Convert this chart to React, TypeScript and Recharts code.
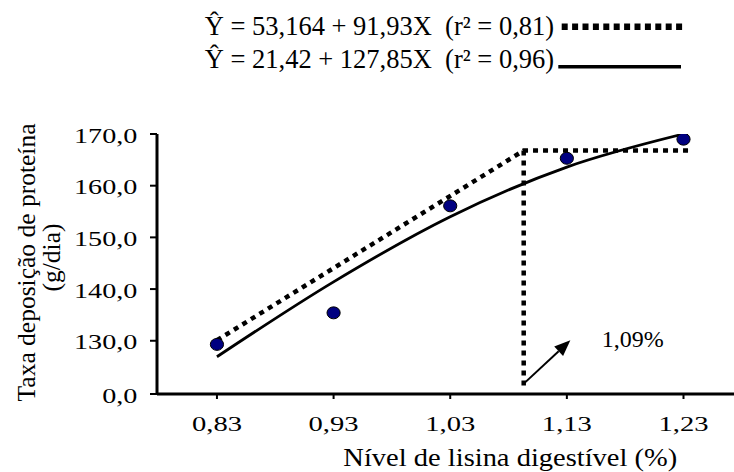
import React from 'react';
import {
  ComposedChart,
  Line,
  Scatter,
  XAxis,
  YAxis,
  ReferenceLine,
} from 'recharts';

const FONT = '"Liberation Serif", "Times New Roman", serif';

// observed data
const lysineLevels = [0.83, 0.93, 1.03, 1.13, 1.23];
const depositionRate = [129.3, 135.4, 156.1, 165.3, 169.0];

// quadratic fit (solid)
const quadX = [0.83, 0.93, 1.03, 1.13, 1.23];
const quadY = [126.9, 141.4, 154.0, 163.6, 170.0];

// linear-plateau fit (dotted)
const lrpX = [0.83, 1.093, 1.235];
const lrpY = [130.1, 166.8, 166.8];
const breakPoint = { x: 1.093, plateau: 166.8, floor: 120.5 };

// arrow pointing at the break point label
const arrowFrom = { x: 1.094, y: 121.9 };
const arrowTo = { x: 1.133, y: 130.1 };

const xTicks = [0.83, 0.93, 1.03, 1.13, 1.23];
const yTicks = [119.7, 130, 140, 150, 160, 170];

const points = lysineLevels.map((x, i) => ({ x, y: depositionRate[i] }));
const quadData = quadX.map((x, i) => ({ x, y: quadY[i] }));
const lrpData = lrpX.map((x, i) => ({ x, y: lrpY[i] }));

const fmtY = (v: number) => (v < 125 ? '0,0' : v.toFixed(1).replace('.', ','));
const fmtX = (v: number) => v.toFixed(2).replace('.', ',');

// tick labels in the figure are horizontally stretched
function XTick(props: any) {
  const { x, y, payload } = props;
  return (
    <g transform={`translate(${x},${y + 30}) scale(1.3,1)`}>
      <text x={0} y={0} textAnchor="middle" fontSize={22} fontFamily={FONT} fill="#000">
        {fmtX(payload.value)}
      </text>
    </g>
  );
}

function YTick(props: any) {
  const { x, y, payload } = props;
  return (
    <g transform={`translate(${x},${y + 8.5}) scale(1.28,1)`}>
      <text x={0} y={0} textAnchor="end" fontSize={22} fontFamily={FONT} fill="#000">
        {fmtY(payload.value)}
      </text>
    </g>
  );
}

function Dot(props: any) {
  const { cx, cy } = props;
  if (cx == null || cy == null) return null;
  return <ellipse cx={cx} cy={cy} rx={6.6} ry={6} fill="#000080" stroke="#000" strokeWidth={1} />;
}

function Arrow(props: any) {
  const { x1, y1, x2, y2 } = props;
  const ang = Math.atan2(y2 - y1, x2 - x1);
  const len = 16;
  const half = 6.5;
  const bx = x2 - len * Math.cos(ang);
  const by = y2 - len * Math.sin(ang);
  const px = -Math.sin(ang) * half;
  const py = Math.cos(ang) * half;
  return (
    <g>
      <line x1={x1} y1={y1} x2={bx} y2={by} stroke="#000" strokeWidth={2} />
      <polygon points={`${x2},${y2} ${bx + px},${by + py} ${bx - px},${by - py}`} fill="#000" />
    </g>
  );
}

export default function App() {
  return (
    <div
      style={{
        position: 'absolute',
        left: 0,
        top: 0,
        width: 734,
        height: 472,
        overflow: 'hidden',
        background: '#fff',
      }}
    >
      <ComposedChart
        width={734}
        height={472}
        margin={{ top: 134, right: 0, bottom: 0, left: 0 }}
      >
        <XAxis
          type="number"
          dataKey="x"
          domain={[0.7786, 1.2733]}
          ticks={xTicks}
          allowDataOverflow
          height={78}
          tickSize={5}
          tickMargin={2}
          axisLine={{ stroke: '#000', strokeWidth: 3 }}
          tickLine={{ stroke: '#000', strokeWidth: 2 }}
          tick={<XTick />}
        />
        <YAxis
          type="number"
          domain={[119.7, 170]}
          ticks={yTicks}
          allowDataOverflow
          width={157}
          tickSize={7}
          tickMargin={12.7}
          axisLine={{ stroke: '#000', strokeWidth: 3 }}
          tickLine={{ stroke: '#000', strokeWidth: 2 }}
          tick={<YTick />}
        />
        <ReferenceLine
          segment={[
            { x: breakPoint.x, y: breakPoint.plateau },
            { x: breakPoint.x, y: breakPoint.floor },
          ]}
          stroke="#000"
          strokeWidth={4.5}
          strokeDasharray="5 5"
        />
        <ReferenceLine
          segment={[arrowFrom, arrowTo]}
          stroke="#000"
          shape={<Arrow />}
        />
        <Line
          data={lrpData}
          dataKey="y"
          type="linear"
          stroke="#000"
          strokeWidth={4.5}
          strokeDasharray="5 5"
          dot={false}
          activeDot={false}
          isAnimationActive={false}
        />
        <Line
          data={quadData}
          dataKey="y"
          type="monotone"
          stroke="#000"
          strokeWidth={2.8}
          dot={false}
          activeDot={false}
          isAnimationActive={false}
        />
        <Scatter data={points} dataKey="y" shape={<Dot />} isAnimationActive={false} />
      </ComposedChart>

      <svg
        width={734}
        height={472}
        style={{ position: 'absolute', left: 0, top: 0, pointerEvents: 'none' }}
        fontFamily={FONT}
      >
        <text x={204.7} y={35} fontSize={26.5} fill="#000" style={{ whiteSpace: 'pre' }}>
          {'Ŷ = 53,164 + 91,93X  (r² = 0,81)'}
        </text>
        <line x1={561.7} y1={26.7} x2={684} y2={26.7} stroke="#000" strokeWidth={6.5} strokeDasharray="6 4.4" />
        <text x={204.7} y={68.3} fontSize={26.5} fill="#000" style={{ whiteSpace: 'pre' }}>
          {'Ŷ = 21,42 + 127,85X  (r² = 0,96)'}
        </text>
        <line x1={558.3} y1={66.7} x2={681} y2={66.7} stroke="#000" strokeWidth={3.5} />

        <text
          transform="translate(35,262.5) rotate(-90)"
          textAnchor="middle"
          fontSize={25.5}
          fill="#000"
        >
          Taxa deposição de proteína
        </text>
        <text
          transform="translate(60,257.5) rotate(-90)"
          textAnchor="middle"
          fontSize={25.5}
          fill="#000"
        >
          (g/dia)
        </text>

        <g transform="translate(510.3,466) scale(1.14,1)">
          <text x={0} y={0} textAnchor="middle" fontSize={25} fill="#000">
            Nível de lisina digestível (%)
          </text>
        </g>

        <text x={601.7} y={346.7} fontSize={24} fill="#000">
          1,09%
        </text>
      </svg>
    </div>
  );
}
